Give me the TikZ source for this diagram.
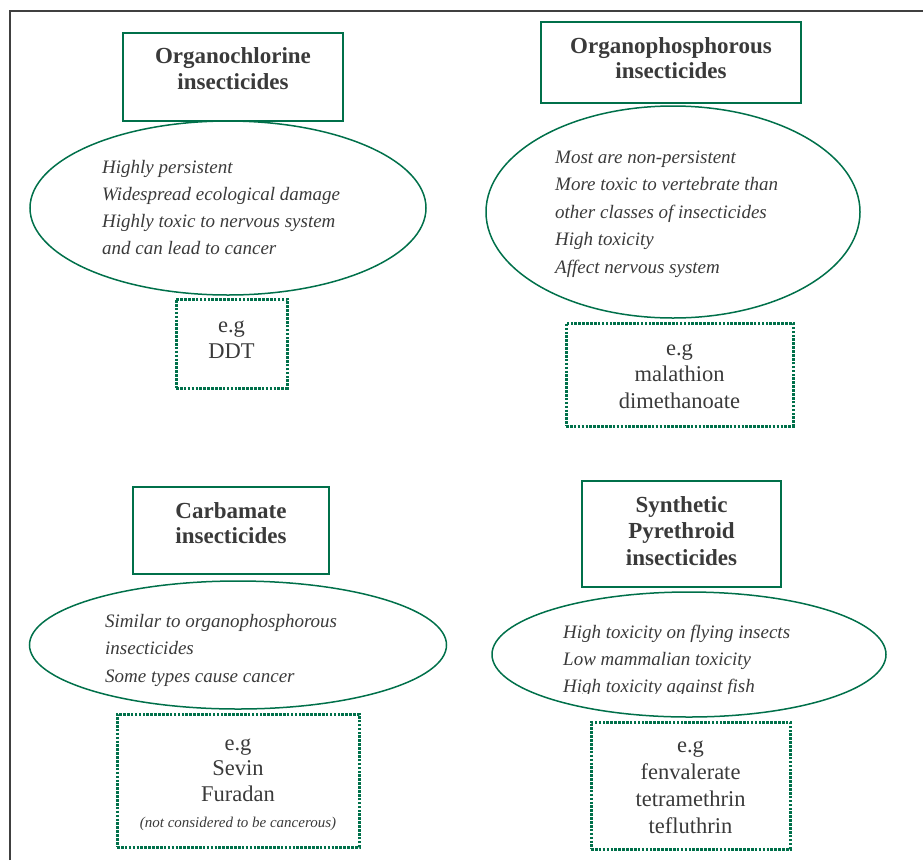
\documentclass[tikz,border=0pt]{standalone}
\usepackage{fontspec}
\setmainfont{Liberation Serif}
\usetikzlibrary{shapes.geometric}
\definecolor{grn}{RGB}{0,112,74}
\definecolor{txt}{RGB}{58,58,58}
\definecolor{frm}{RGB}{64,64,64}
\newcommand\lft[1]{\begin{tabular}[t]{@{}l@{}}#1\end{tabular}}
\newcommand\ctr[1]{\begin{tabular}[t]{@{}c@{}}#1\end{tabular}}
\begin{document}
\begin{tikzpicture}[x=1pt,y=-1pt,
  headbox/.style={draw=grn,line width=1.5pt,inner sep=0pt},
  examplebox/.style={draw=grn,line width=3pt,dash pattern=on 2.6pt off 1.3pt,inner sep=0pt},
  oval/.style={ellipse,draw=grn,line width=1.5pt,inner sep=0pt},
  headtext/.style={anchor=base,inner sep=0pt,text=txt,font=\fontsize{23}{26}\selectfont\bfseries},
  ovaltext/.style={anchor=base west,inner sep=0pt,text=txt,font=\fontsize{19}{27.3}\selectfont\itshape},
  extext/.style={anchor=base,inner sep=0pt,text=txt,font=\fontsize{22.5}{26.5}\selectfont}]
\useasboundingbox (0,0) rectangle (923,860);
\coordinate (fbl) at (9.5,860);
\coordinate (ftl) at (9.5,10.5);
\coordinate (ftr) at (923,10.5);
\draw[frm,line width=2pt] (fbl) -- (ftl) -- (ftr);

% Organochlorine
\node[headbox,minimum width=220,minimum height=88] (h1) at (233,77) {};
\node[headtext] (h1t) at (233,63) {\ctr{Organochlorine\\insecticides}};
\node[oval,minimum width=396,minimum height=174] (e1) at (228,208) {};
\node[ovaltext] (e1t) at (102,173) {\lft{Highly persistent\\Widespread ecological damage\\Highly toxic to nervous system\\and can lead to cancer}};
\node[examplebox,minimum width=111,minimum height=89] (d1) at (231.5,343.5) {};
\node[extext] (d1t) at (231.5,332) {\ctr{e.g\\DDT}};

% Organophosphorous
\node[headbox,minimum width=260,minimum height=81] (h2) at (671,62.5) {};
\node[headtext,font=\fontsize{23}{25}\selectfont\bfseries] (h2t) at (671,53) {\ctr{Organophosphorous\\insecticides}};
\node[oval,minimum width=374,minimum height=212] (e2) at (673,212) {};
\node[ovaltext,font=\fontsize{19}{27.5}\selectfont\itshape] (e2t) at (555,163) {\lft{Most are non-persistent\\More toxic to vertebrate than\\other classes of insecticides\\High toxicity\\Affect nervous system}};
\node[examplebox,minimum width=227,minimum height=103] (d2) at (679.5,374.5) {};
\node[extext] (d2t) at (679.5,355) {\ctr{e.g\\malathion\\dimethanoate}};

% Carbamate
\node[headbox,minimum width=196,minimum height=87] (h3) at (231,530.5) {};
\node[headtext,font=\fontsize{23}{25}\selectfont\bfseries] (h3t) at (231,518) {\ctr{Carbamate\\insecticides}};
\node[oval,minimum width=417,minimum height=128] (e3) at (238,645) {};
\node[ovaltext,font=\fontsize{19}{27.5}\selectfont\itshape] (e3t) at (105,627) {\lft{Similar to organophosphorous\\insecticides\\Some types cause cancer}};
\node[examplebox,minimum width=242,minimum height=133] (d3) at (238,780.5) {};
\node[extext,font=\fontsize{22.5}{25.7}\selectfont] (d3t) at (238,750) {\ctr{e.g\\Sevin\\Furadan\\{\fontsize{15}{18}\selectfont\itshape (not considered to be cancerous)}}};

% Synthetic Pyrethroid
\node[headbox,minimum width=199,minimum height=106] (h4) at (681.5,534) {};
\node[headtext,font=\fontsize{23}{26.5}\selectfont\bfseries] (h4t) at (681.5,512) {\ctr{Synthetic\\Pyrethroid\\insecticides}};
\node[oval,minimum width=394,minimum height=125] (e4) at (689,654.5) {};
\begin{scope}
\clip (480,600) rectangle (900,693);
\node[ovaltext,font=\fontsize{19}{27}\selectfont\itshape] (e4t) at (563,638) {\lft{High toxicity on flying insects\\Low mammalian toxicity\\High toxicity against fish}};
\end{scope}
\node[examplebox,minimum width=199,minimum height=127] (d4) at (690.5,785.5) {};
\node[extext,font=\fontsize{22.5}{27}\selectfont] (d4t) at (690.5,752) {\ctr{e.g\\fenvalerate\\tetramethrin\\tefluthrin}};
\end{tikzpicture}
\end{document}
